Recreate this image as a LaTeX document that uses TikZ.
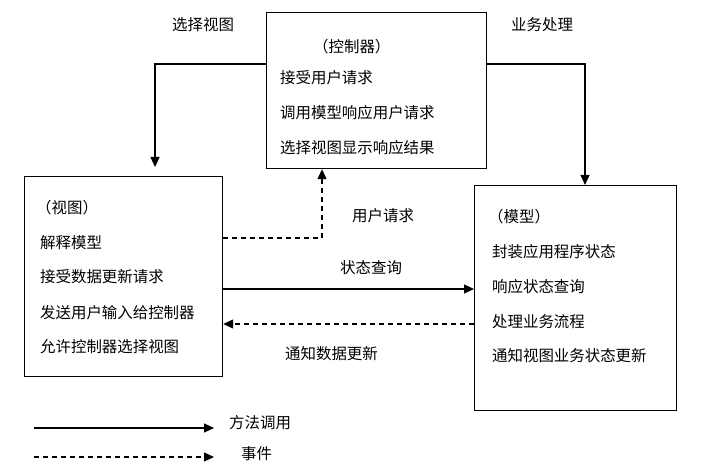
\documentclass[tikz,border=0pt]{standalone}
\usepackage{fontspec}
\setmainfont{Noto Sans CJK SC}
\usetikzlibrary{arrows.meta,calc}
\begin{document}
\begin{tikzpicture}[x=1bp,y=-1bp,
  box/.style={draw,line width=1.2bp,anchor=north west,inner sep=0pt},
  txt/.style={anchor=west,inner sep=0pt,font=\fontsize{15.5}{17}\selectfont},
  arr/.style={line width=1.2bp,-{Triangle[length=10bp,width=9bp]}},
  darr/.style={arr,dash pattern=on 5bp off 4bp}]
\useasboundingbox[fill=white] (0,0) rectangle (703,469);
% boxes
\node[box,minimum width=220bp,minimum height=156bp] (ctrl) at (266,12) {};
\node[box,minimum width=198bp,minimum height=200bp] (view) at (24,176) {};
\node[box,minimum width=202bp,minimum height=225bp] (model) at (474,185) {};
% controller text
\node[txt] (c0) at (313,47) {（控制器）};
\node[txt] (c1) at (280,78) {接受用户请求};
\node[txt] (c2) at (280,113) {调用模型响应用户请求};
\node[txt] (c3) at (280,148) {选择视图显示响应结果};
% view text
\node[txt] (v0) at (36,208) {（视图）};
\node[txt] (v1) at (40,243) {解释模型};
\node[txt] (v2) at (40,277) {接受数据更新请求};
\node[txt] (v3) at (40,313) {发送用户输入给控制器};
\node[txt] (v4) at (40,347) {允许控制器选择视图};
% model text
\node[txt] (m0) at (488,217) {（模型）};
\node[txt] (m1) at (492,252) {封装应用程序状态};
\node[txt] (m2) at (492,287) {响应状态查询};
\node[txt] (m3) at (492,322) {处理业务流程};
\node[txt] (m4) at (492,356) {通知视图业务状态更新};
% labels
\node[txt] (l1) at (172,25) {选择视图};
\node[txt] (l2) at (511,25) {业务处理};
\node[txt] (l3) at (352,216) {用户请求};
\node[txt] (l4) at (340,268) {状态查询};
\node[txt] (l5) at (285,354) {通知数据更新};
% connectors
\draw[arr] ([yshift=-52bp]ctrl.north west) -| ([xshift=131bp,yshift=9bp]view.north west);
\draw[arr] ([yshift=-52bp]ctrl.north east) -| ([xshift=111bp]model.north west);
\draw[darr] ([yshift=-62bp]view.north east) -| ([xshift=56bp]ctrl.south west);
\draw[arr] ([yshift=-113bp]view.north east) coordinate (sq) -- (sq -| model.west);
\draw[darr] ([yshift=-139bp]model.north west) coordinate (nd) -- (nd -| view.east);
% legend
\coordinate (la) at (34,428);
\coordinate (lb) at (214,428);
\coordinate (lc) at (34,457);
\coordinate (ld) at (214,457);
\draw[arr] (la) -- (lb);
\draw[darr] (lc) -- (ld);
\node[txt] (t1) at (229,423) {方法调用};
\node[txt] (t2) at (241,454) {事件};
\end{tikzpicture}
\end{document}
